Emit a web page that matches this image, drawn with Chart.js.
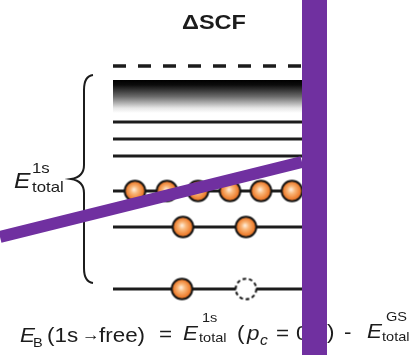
<!DOCTYPE html>
<html>
<head>
<meta charset="utf-8">
<script src="https://cdn.jsdelivr.net/npm/chart.js@4"></script>
<style>
html,body{margin:0;padding:0;background:#fff;}
canvas{display:block;}
</style>
</head>
<body>
<canvas id="c" width="410" height="355"></canvas>
<script>
// ---- data (diagram units: x across, y = energy axis drawn downward) ----
const levelSpan = [113, 316];                 // x extent of every energy level
const vacuumLevel = 66;                       // dashed line
const continuumBand = [80, 113];              // top / bottom of the shaded continuum
const solidLevels = [122, 139, 156, 191, 227, 289];
const electronsLevel4 = [135, 167, 198, 230, 261, 292]; // on level y=191
const electronsLevel5 = [183, 246];                     // on level y=227
const electronsCore = [182];                            // on level y=289
const holesCore = [246];                                // empty (dashed) site
const occupiedLevels = [191, 227, 289];
const braceRange = [75, 283];
const overlayVertical = { x: [314.5, 314.5], y: [0, 355] };
const overlayDiagonal = { x: [0, 302], y: [237, 162] };
const titleText = 'ΔSCF';

const FONT = '"Liberation Sans", Arial, Helvetica, sans-serif';
const INK = '#1c1c1c';
const PURPLE = '#7030A0';

function electronSprite(hole) {
  const s = document.createElement('canvas');
  s.width = 25; s.height = 25;
  const c = s.getContext('2d');
  c.beginPath();
  c.arc(12.5, 12.5, 10.3, 0, Math.PI * 2);
  if (hole) {
    c.fillStyle = '#fff';
    c.fill();
    c.setLineDash([3.6, 2.8]);
  } else {
    const g = c.createRadialGradient(11.5, 11, 0.5, 12.5, 12.5, 11);
    g.addColorStop(0, '#feead6');
    g.addColorStop(0.3, '#f9b77a');
    g.addColorStop(0.75, '#ee7f30');
    g.addColorStop(1, '#d2621d');
    c.fillStyle = g;
    c.fill();
  }
  c.lineWidth = 2;
  c.strokeStyle = '#161616';
  c.stroke();
  return s;
}
const eSprite = electronSprite(false);
const hSprite = electronSprite(true);

function pts(xs, y) { return xs.map(x => ({ x, y })); }
function pairPts(o) { return o.x.map((x, i) => ({ x, y: o.y[i] })); }

const datasets = [];
// overlay marks (top-most)
datasets.push({ type: 'line', data: pairPts(overlayVertical), borderColor: PURPLE, borderWidth: 25, borderCapStyle: 'butt', pointRadius: 0, clip: false });
datasets.push({ type: 'line', data: pairPts(overlayDiagonal), borderColor: PURPLE, borderWidth: 12, borderCapStyle: 'butt', pointRadius: 0, clip: false });
// electrons
const occ = [electronsLevel4, electronsLevel5, electronsCore];
occ.forEach((xs, i) => datasets.push({ type: 'scatter', data: pts(xs, occupiedLevels[i]), pointStyle: eSprite, pointRadius: 11, showLine: false }));
datasets.push({ type: 'scatter', data: pts(holesCore, occupiedLevels[2]), pointStyle: hSprite, pointRadius: 11, showLine: false });
// solid levels
solidLevels.forEach(y => datasets.push({ type: 'line', data: pts(levelSpan, y), borderColor: INK, borderWidth: 2.8, borderCapStyle: 'butt', pointRadius: 0 }));
// vacuum (dashed)
datasets.push({ type: 'line', data: pts(levelSpan, vacuumLevel), borderColor: INK, borderWidth: 3.6, borderDash: [13, 12], borderCapStyle: 'butt', pointRadius: 0 });
// continuum band
const bandMid = (continuumBand[0] + continuumBand[1]) / 2;
datasets.push({
  type: 'line', data: pts(levelSpan, bandMid), borderCapStyle: 'butt', pointRadius: 0,
  borderWidth: (ctx) => {
    const y = ctx.chart.scales.y;
    if (!ctx.chart.chartArea || !y) return 33;
    return Math.abs(y.getPixelForValue(continuumBand[1]) - y.getPixelForValue(continuumBand[0]));
  },
  borderColor: (ctx) => {
    const chart = ctx.chart;
    if (!chart.chartArea) return '#000';
    const y = chart.scales.y;
    const y0 = y.getPixelForValue(continuumBand[0]);
    const y1 = y.getPixelForValue(continuumBand[1]);
    const g = chart.ctx.createLinearGradient(0, y0, 0, y1);
    g.addColorStop(0, '#000');
    g.addColorStop(0.15, '#0c0c0c');
    g.addColorStop(0.5, '#6a6a6a');
    g.addColorStop(0.85, '#e6e6e6');
    g.addColorStop(1, '#ffffff');
    return g;
  }
});

const SX = 1.12; // horizontal stretch of the lettering in the reference
function put(c, t, font, x, y) {
  c.font = font;
  c.save(); c.translate(x, y); c.scale(SX, 1); c.fillText(t, 0, 0); c.restore();
}

const textPlugin = {
  id: 'diagramText',
  beforeDatasetsDraw(chart) {
    const c = chart.ctx;
    const xs = chart.scales.x, ys = chart.scales.y;
    c.save();
    c.fillStyle = INK;
    c.textBaseline = 'alphabetic';
    c.textAlign = 'left';
    // title
    c.font = 'bold 21px ' + FONT;
    const tw = c.measureText(titleText).width * SX;
    put(c, titleText, 'bold 21px ' + FONT, 214 - tw / 2, 29);

    // brace
    const bx = xs.getPixelForValue(84), tip = xs.getPixelForValue(71), curl = xs.getPixelForValue(93);
    const t = ys.getPixelForValue(braceRange[0]), b = ys.getPixelForValue(braceRange[1]);
    const m = (t + b) / 2;
    c.beginPath();
    c.moveTo(curl, t);
    c.quadraticCurveTo(bx, t + 1, bx, t + 15);
    c.lineTo(bx, m - 14);
    c.quadraticCurveTo(bx, m - 2, tip, m);
    c.quadraticCurveTo(bx, m + 2, bx, m + 14);
    c.lineTo(bx, b - 15);
    c.quadraticCurveTo(bx, b - 1, curl, b);
    c.lineWidth = 2;
    c.strokeStyle = INK;
    c.stroke();

    // E_total^1s label
    put(c, 'E', 'italic 22px ' + FONT, 14, 188);
    put(c, '1s', '15px ' + FONT, 32, 173);
    put(c, 'total', '15px ' + FONT, 32, 192);

    // equation
    const M = '20px ' + FONT, MI = 'italic 20px ' + FONT, S = '13px ' + FONT, SI = 'italic 14px ' + FONT;
    put(c, 'E', MI, 20, 342);
    put(c, 'B', S, 33, 347);
    put(c, '(1s', M, 47, 342);
    put(c, '→', '16px ' + FONT, 82, 340);
    put(c, 'free)', M, 99, 342);
    put(c, '=', M, 159, 341);

    put(c, 'E', MI, 183, 340);
    put(c, '1s', S, 202, 322);
    put(c, 'total', S, 199, 342);

    put(c, '(', M, 237, 340);
    put(c, 'p', MI, 247, 340);
    put(c, 'c', SI, 260, 345);
    put(c, '=', M, 276, 340);
    put(c, '0.5', M, 296, 340);
    put(c, ')', M, 327, 339);
    put(c, '-', M, 344, 339);

    put(c, 'E', MI, 367, 338);
    put(c, 'GS', S, 386, 321);
    put(c, 'total', S, 382, 341);
    c.restore();
  }
};

new Chart(document.getElementById('c'), {
  data: { datasets },
  options: {
    responsive: false,
    animation: false,
    devicePixelRatio: 1,
    layout: { padding: 0, autoPadding: false },
    plugins: { legend: { display: false }, tooltip: { enabled: false }, title: { display: false } },
    events: [],
    scales: {
      x: { type: 'linear', min: 0, max: 410, display: false },
      y: { type: 'linear', min: 0, max: 355, reverse: true, display: false }
    }
  },
  plugins: [textPlugin]
});
</script>
</body>
</html>
